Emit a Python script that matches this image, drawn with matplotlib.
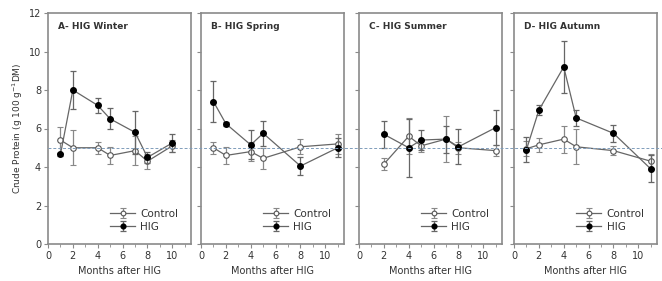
import matplotlib.pyplot as plt
import matplotlib.transforms as mtransforms
from matplotlib.ticker import MultipleLocator

# panel A - winter
a_x = [1, 2, 4, 5, 7, 8, 10]
a_hig = [4.65, 8.0, 7.2, 6.5, 5.8, 4.5, 5.25]
a_hig_err = [0.1, 1.0, 0.4, 0.55, 1.1, 0.3, 0.45]
a_ctl = [5.4, 5.0, 5.0, 4.6, 4.85, 4.3, 5.1]
a_ctl_err = [0.7, 0.9, 0.3, 0.45, 0.75, 0.4, 0.3]

# panel B - spring
b_x = [1, 2, 4, 5, 8, 11]
b_hig = [7.4, 6.25, 5.15, 5.75, 4.05, 5.0]
b_hig_err = [1.07, 0.1, 0.75, 0.65, 0.45, 0.5]
b_ctl = [5.0, 4.6, 4.8, 4.45, 5.05, 5.2]
b_ctl_err = [0.3, 0.45, 0.5, 0.55, 0.4, 0.5]

# panel C - summer
c_x = [2, 4, 5, 7, 8, 11]
c_hig = [5.7, 5.0, 5.4, 5.45, 5.05, 6.05]
c_hig_err = [0.7, 1.5, 0.5, 0.7, 0.9, 0.9]
c_ctl = [4.15, 5.6, 5.1, 5.45, 5.0, 4.85]
c_ctl_err = [0.3, 0.95, 0.3, 1.2, 0.3, 0.3]

# panel D - autumn
d_x = [1, 2, 4, 5, 8, 11]
d_hig = [4.9, 6.95, 9.2, 6.55, 5.75, 3.9]
d_hig_err = [0.65, 0.25, 1.35, 0.4, 0.45, 0.7]
d_ctl = [4.95, 5.15, 5.45, 5.05, 4.85, 4.3]
d_ctl_err = [0.4, 0.35, 0.7, 0.9, 0.25, 0.35]

titles = ['A- HIG Winter', 'B- HIG Spring', 'C- HIG Summer', 'D- HIG Autumn']
panels = [(a_x, a_hig, a_hig_err, a_ctl, a_ctl_err),
          (b_x, b_hig, b_hig_err, b_ctl, b_ctl_err),
          (c_x, c_hig, c_hig_err, c_ctl, c_ctl_err),
          (d_x, d_hig, d_hig_err, d_ctl, d_ctl_err)]

W, H = 662, 281
fig = plt.figure(figsize=(W / 100, H / 100), dpi=100)
lefts = [48, 201, 359, 514]
width = 143
bottom, top = 244, 13

line_col = '#666666'
spine_col = '#8a8a8a'
text_col = '#333333'

axes = []
for i, (left, data, title) in enumerate(zip(lefts, panels, titles)):
    x, hig, hig_err, ctl, ctl_err = data
    ax = fig.add_axes([left / W, 1 - bottom / H, width / W, (bottom - top) / H])
    axes.append(ax)
    ax.errorbar(x, ctl, yerr=ctl_err, color=line_col, ecolor='#888888', lw=0.9,
                elinewidth=0.9, capsize=2.5, capthick=0.9, marker='o', ms=4,
                mfc='white', mec='#555555', mew=0.8, label='Control', zorder=3)
    ax.errorbar(x, hig, yerr=hig_err, color=line_col, ecolor='#666666', lw=0.9,
                elinewidth=0.9, capsize=2.5, capthick=0.9, marker='o', ms=4,
                mfc='black', mec='black', label='HIG', zorder=4)
    ax.set_xlim(0, 11.5)
    ax.set_ylim(0, 12)
    ax.xaxis.set_major_locator(MultipleLocator(2))
    ax.xaxis.set_minor_locator(MultipleLocator(1))
    ax.yaxis.set_major_locator(MultipleLocator(2))
    ax.tick_params(direction='out', length=3, width=0.8, color=spine_col,
                   labelsize=7, labelcolor=text_col, pad=2)
    ax.tick_params(which='minor', direction='out', length=2, width=0.6, color=spine_col)
    if i > 0:
        ax.tick_params(axis='y', labelleft=False)
    for s in ax.spines.values():
        s.set_color(spine_col)
        s.set_linewidth(1.2)
    ax.text(0.07, 0.96, title, transform=ax.transAxes, fontsize=6.5,
            fontweight='bold', color=text_col, va='top', ha='left')
    ax.set_xlabel('Months after HIG', fontsize=7, color=text_col, labelpad=4)
    leg = ax.legend(loc='lower right', frameon=False, fontsize=7.5,
                    handlelength=2.4, handletextpad=0.5, labelspacing=0.25,
                    borderaxespad=0.8, markerscale=0.85)
    for t in leg.get_texts():
        t.set_color(text_col)

axes[0].set_ylabel('Crude Protein (g 100 g$^{-1}$DM)', fontsize=6.5,
                   color=text_col, labelpad=3)

# dashed reference line at 5 running across all panels
trans = mtransforms.blended_transform_factory(fig.transFigure, axes[0].transData)
fig.add_artist(plt.Line2D([48 / W, 1.0], [5, 5], transform=trans,
                          color='#7f9cba', lw=0.7, ls=(0, (3, 2)), zorder=1))

fig.savefig('out.png', dpi=100)
